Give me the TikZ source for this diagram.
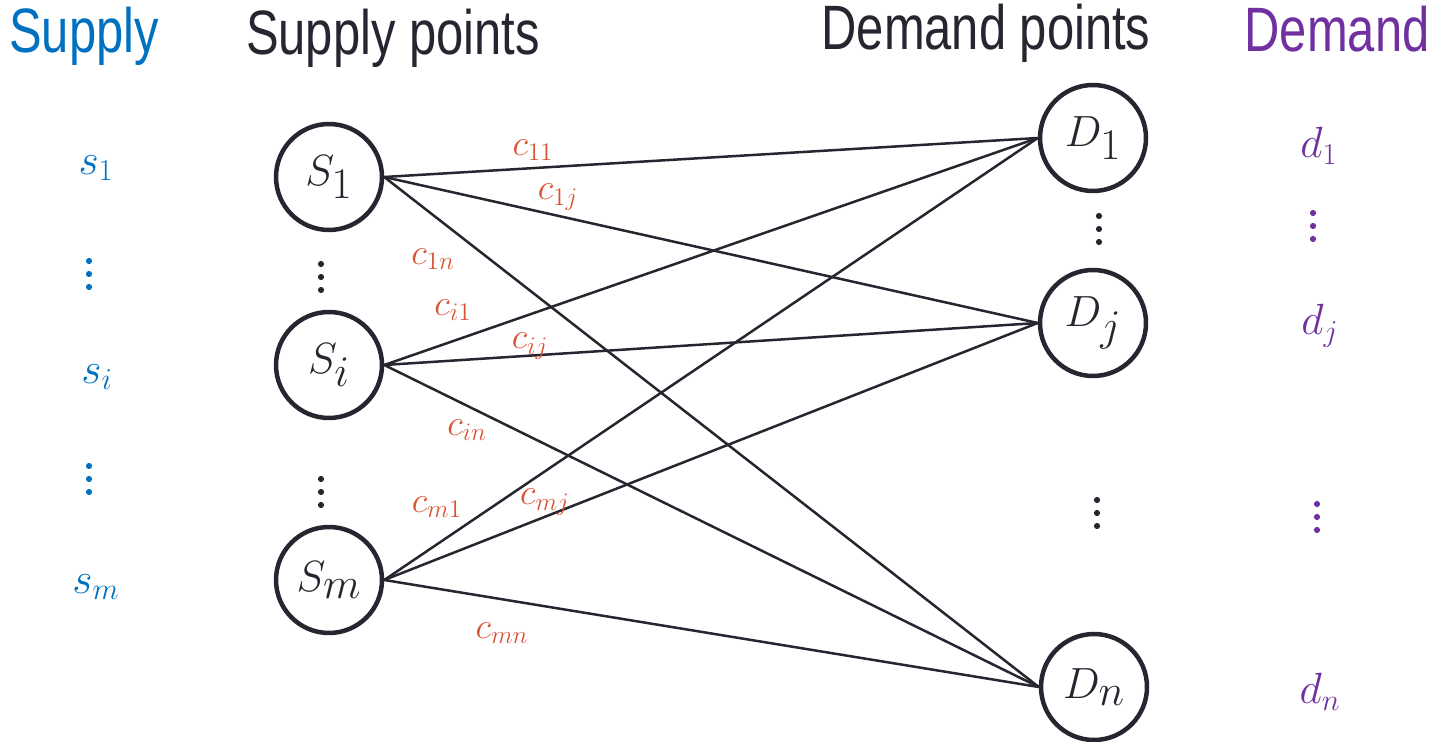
\documentclass[tikz,border=0pt]{standalone}
\usepackage{fontspec}
\newfontfamily\hfont[FakeStretch=0.78]{Liberation Sans}
\usetikzlibrary{calc}
\definecolor{ink}{RGB}{38,38,48}
\definecolor{supc}{RGB}{0,112,192}
\definecolor{demc}{RGB}{112,48,160}
\definecolor{costc}{RGB}{217,83,54}
\newcommand\myvdots[2]{\foreach \k in {-13,0,13} {\fill[#2] ($(#1)+(0,\k)$) circle (0.062cm);}}
\begin{document}
\begin{tikzpicture}[x=0.02cm,y=-0.02cm,
  head/.style={font=\hfont\fontsize{35.7}{40}\selectfont, anchor=base, inner sep=0},
  pnode/.style={circle, draw=ink, line width=0.09cm, minimum size=2.12cm, inner sep=0, text=ink, font=\fontsize{33}{36}\selectfont},
  cost/.style={text=costc, inner sep=0, font=\fontsize{20}{23}\selectfont},
  suplab/.style={text=supc, inner sep=0, font=\fontsize{26}{30}\selectfont},
  demlab/.style={text=demc, inner sep=0, font=\fontsize{26}{30}\selectfont},
  edge/.style={draw=ink, line width=0.05cm}]
\useasboundingbox (0,0) rectangle (1429,742);

% headers
\node[head, text=supc] (hsup) at (84,53) {Supply};
\node[head, text=ink] (hsp) at (393,55) {Supply points};
\node[head, text=ink] (hdp) at (986,50) {Demand points};
\node[head, text=demc] (hdem) at (1337,52) {Demand};

% supply / demand nodes
\node[pnode] (S1) at (329,177) {$S_1$};
\node[pnode] (Si) at (329,365) {$S_i$};
\node[pnode] (Sm) at (329,580) {$S_m$};
\node[pnode] (D1) at (1093,138) {$D_1$};
\node[pnode] (Dj) at (1093,323) {$D_j$};
\node[pnode] (Dn) at (1094,687) {$D_n$};

% edges
\foreach \s in {S1,Si,Sm} {
  \foreach \d in {D1,Dj,Dn} {
    \draw[edge] (\s.east) -- (\d.west);
  }
}

% cost labels
\node[cost] (c11) at (533,150) {$c_{11}$};
\node[cost] (c1j) at (558,197) {$c_{1j}$};
\node[cost] (c1n) at (433,259) {$c_{1n}$};
\node[cost] (ci1) at (453,310) {$c_{i1}$};
\node[cost] (cij) at (530,346) {$c_{ij}$};
\node[cost] (cin) at (467,430) {$c_{in}$};
\node[cost] (cm1) at (437,507) {$c_{m1}$};
\node[cost] (cmj) at (545,502) {$c_{mj}$};
\node[cost] (cmn) at (502,633) {$c_{mn}$};

% supply / demand amounts
\node[suplab] (s1) at (96,168) {$s_1$};
\node[suplab] (si) at (97,377) {$s_i$};
\node[suplab] (sm) at (96,587) {$s_m$};
\node[demlab] (d1) at (1319,146) {$d_1$};
\node[demlab] (dj) at (1320,326) {$d_j$};
\node[demlab] (dn) at (1320,692) {$d_n$};

% vertical dots
\coordinate (v1) at (89,274);
\coordinate (v2) at (89,479);
\coordinate (v3) at (321,277);
\coordinate (v4) at (321,492);
\coordinate (v5) at (1099,229);
\coordinate (v6) at (1097,513);
\coordinate (v7) at (1313,226);
\coordinate (v8) at (1317,517);
\myvdots{v1}{supc}
\myvdots{v2}{supc}
\myvdots{v3}{ink}
\myvdots{v4}{ink}
\myvdots{v5}{ink}
\myvdots{v6}{ink}
\myvdots{v7}{demc}
\myvdots{v8}{demc}
\end{tikzpicture}
\end{document}
